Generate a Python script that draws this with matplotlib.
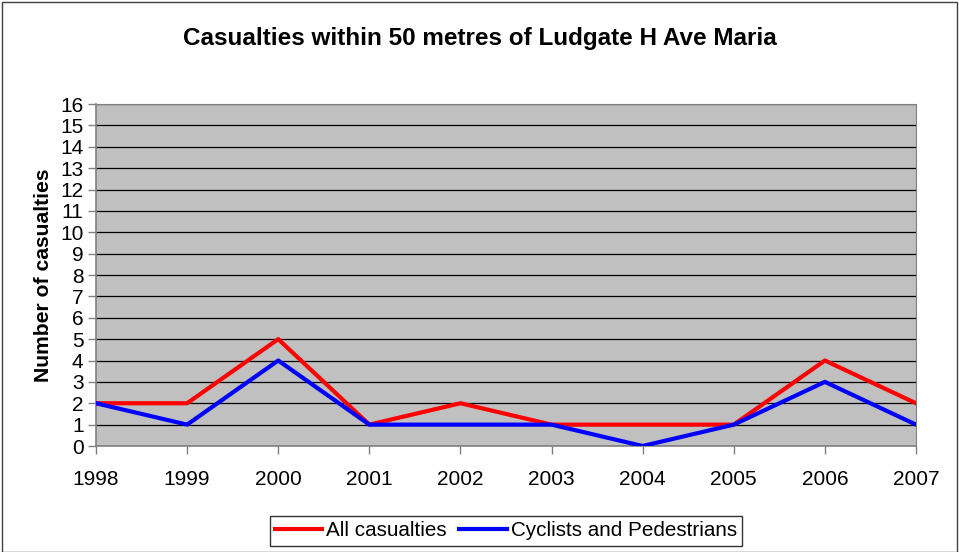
import matplotlib

matplotlib.use("Agg")

import matplotlib.pyplot as plt  # noqa: E402
from matplotlib.patches import Rectangle  # noqa: E402

years = [1998, 1999, 2000, 2001, 2002, 2003, 2004, 2005, 2006, 2007]
all_casualties = [2, 2, 5, 1, 2, 1, 1, 1, 4, 2]
cyclists_pedestrians = [2, 1, 4, 1, 1, 1, 0, 1, 3, 1]
y_ticks = list(range(0, 17))

plt.rcParams["font.family"] = ["Liberation Sans", "DejaVu Sans"]

fig = plt.figure(figsize=(9.59, 5.52), dpi=100)
ax = fig.add_axes([96 / 959, 1 - 446 / 552, (916 - 96) / 959, (446 - 104) / 552])

# outer chart frame
fig.patches.append(Rectangle((2 / 959, 0.0), 955 / 959, 1 - 2 / 552, transform=fig.transFigure,
                             fill=False, edgecolor="#404040", linewidth=1.0))

ax.set_facecolor("#C0C0C0")
ax.plot(years, all_casualties, color="#FF0000", linewidth=3, label="All casualties", zorder=3)
ax.plot(years, cyclists_pedestrians, color="#0000FF", linewidth=3, label="Cyclists and Pedestrians", zorder=4)

ax.set_xlim(years[0], years[-1])
ax.set_ylim(0, 16)
ax.set_xticks(years)
ax.set_yticks(y_ticks)
ax.yaxis.grid(True, color="black", linewidth=0.9)
ax.set_axisbelow(True)
for side in ["top", "right"]:
    ax.spines[side].set_color("#808080")
for side in ["left", "bottom"]:
    ax.spines[side].set_color("#808080")
    ax.spines[side].set_linewidth(1.2)
ax.tick_params(axis="both", labelsize=15, color="#808080", length=6, width=1)
ax.tick_params(axis="x", pad=11)
ax.tick_params(axis="y", pad=3)

# title is centred on the whole chart, not the plot area
fig.text(480 / 959, 1 - 38 / 552, "Casualties within 50 metres of Ludgate H Ave Maria",
         fontsize=17.5, fontweight="bold", ha="center", va="center")
ax.set_ylabel("Number of casualties", fontsize=15.2, fontweight="bold", labelpad=5)

leg = fig.legend(loc="center", bbox_to_anchor=(506 / 959, 1 - 531 / 552), ncol=2, fontsize=14.9,
                 frameon=True, fancybox=False, edgecolor="black", handlelength=2.3,
                 handletextpad=0.2, columnspacing=0.6, borderpad=0.25, borderaxespad=0)
leg.get_frame().set_linewidth(1.0)

fig.savefig("out.png", dpi=100)
